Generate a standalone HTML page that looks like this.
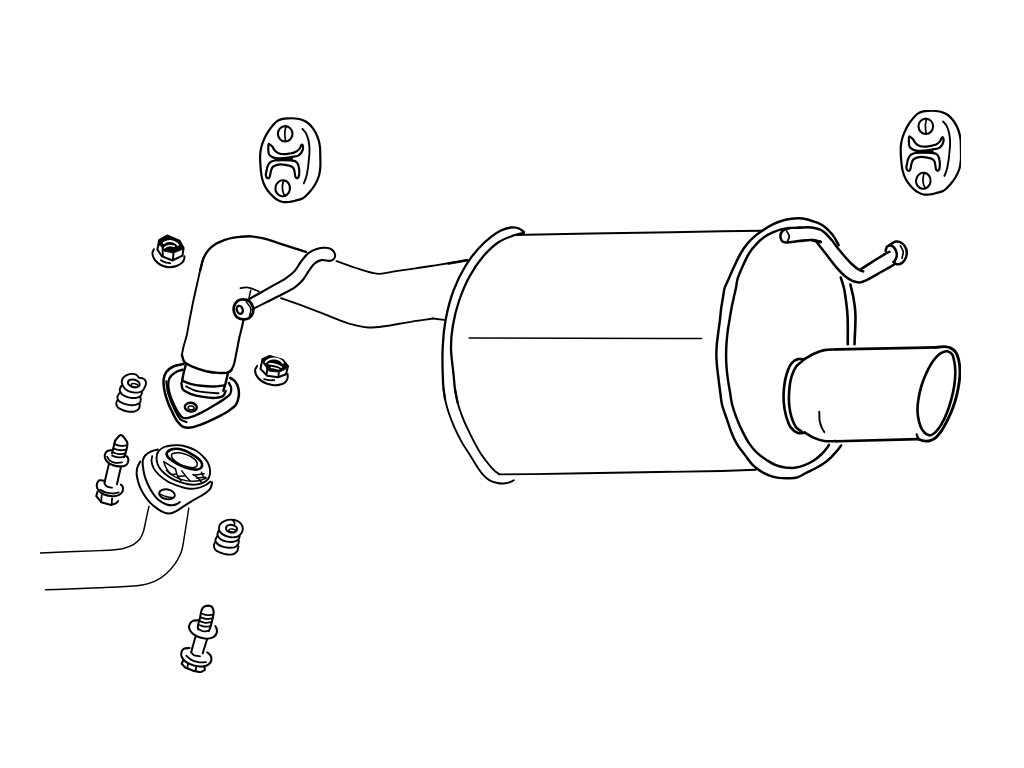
<!DOCTYPE html>
<html lang="en">
<head>
<meta charset="utf-8">
<title>Exhaust muffler diagram</title>
<style>
html,body{margin:0;padding:0;background:#fff;}
body{width:1024px;height:768px;overflow:hidden;}
svg{display:block;}
path,ellipse{stroke-linecap:round;stroke-linejoin:round;}
</style>
</head>
<body>
<svg width="1024" height="768" viewBox="0 0 1024 768" role="img" aria-label="Exhaust muffler exploded diagram">
<rect width="1024" height="768" fill="#fff"/>
<g filter="url(#soft)">
<path d="M524.0 232.0C522.3 230.8 521.0 229.3 519.0 228.5C516.7 227.6 513.8 227.3 511.0 227.5C507.8 227.8 504.2 229.0 501.0 230.5C497.6 232.1 494.4 234.1 491.0 236.8C486.9 239.9 482.5 244.1 478.5 248.5C474.1 253.4 469.9 258.7 466.0 265.0C461.4 272.4 456.9 281.5 453.5 290.5C450.0 299.9 447.3 310.9 445.5 320.5C443.9 329.1 443.2 336.7 442.8 345.5C442.2 355.1 442.5 368.1 442.8 376.0C442.9 381.1 443.1 384.5 443.5 388.5C443.9 392.3 444.6 395.8 445.1 399.4" fill="none" stroke="#000" stroke-width="2.3"/>
<path d="M443.5 388.5C444.1 392.1 444.3 395.6 445.1 399.4C446.0 403.9 447.5 408.9 449.0 413.5C450.6 418.2 452.4 422.9 454.5 427.6C456.6 432.3 459.0 437.1 461.5 441.6C463.9 446.0 466.7 450.0 469.3 454.1C471.9 458.3 474.6 462.9 477.1 466.6C479.3 469.8 481.1 472.8 483.4 475.2C485.3 477.3 487.3 479.1 489.6 480.4C492.0 481.7 494.8 482.5 497.4 483.0C500.0 483.5 502.9 483.6 505.2 483.3C507.3 483.1 509.2 482.5 510.7 481.9C511.9 481.5 512.8 480.8 513.8 480.2" fill="none" stroke="#000" stroke-width="1.9"/>
<path d="M524.0 232.8C520.5 233.7 517.3 234.2 513.5 235.5C508.9 237.1 503.3 239.1 498.5 242.2C493.2 245.7 488.1 250.7 483.5 256.0C478.5 261.8 473.8 268.7 469.8 276.0C465.5 283.7 461.9 292.5 459.0 301.0C456.2 309.2 454.1 317.9 452.8 326.0C451.5 333.5 450.9 340.2 451.0 348.0C451.1 356.8 453.0 368.5 453.7 376.0C454.2 381.0 454.3 384.2 454.9 388.5C455.6 393.1 456.7 397.9 457.6 402.6" fill="none" stroke="#000" stroke-width="2.3"/>
<path d="M454.9 388.5C455.8 393.2 456.4 397.9 457.6 402.6C458.8 407.3 460.5 412.1 462.3 416.6C463.9 421.0 465.8 425.0 467.8 429.1C469.7 433.3 471.8 437.5 474.0 441.6C476.2 445.8 478.6 450.3 481.0 454.1C483.3 457.6 485.7 460.6 488.1 463.5C490.2 466.1 492.3 468.7 494.3 470.5C495.9 472.0 497.4 472.9 499.0 474.1" fill="none" stroke="#000" stroke-width="1.9"/>
<path d="M514.0 235.0L591.0 233.5L672.0 232.2L722.0 231.2L762.5 230.8" fill="none" stroke="#000" stroke-width="1.9"/>
<path d="M499.0 474.4L533.4 474.1L584.0 473.2L722.0 471.0L755.8 469.8" fill="none" stroke="#000" stroke-width="1.9"/>
<path d="M469.2 338.0L672.0 338.5L701.5 338.5" fill="none" stroke="#000" stroke-width="1.6"/>
<path d="M838.7 245.2C837.9 243.7 837.4 242.4 836.4 240.8C835.2 238.7 833.5 236.0 831.7 233.8C829.8 231.5 827.5 229.2 825.4 227.5C823.6 226.0 821.9 224.9 820.0 223.9C818.1 222.9 816.1 222.3 814.0 221.6C811.7 220.8 809.0 219.8 806.5 219.2C804.0 218.7 801.5 218.4 799.0 218.3C796.5 218.2 794.1 218.4 791.5 218.8C788.5 219.2 785.2 219.8 782.1 220.7C778.9 221.6 775.8 222.9 772.8 224.4C769.6 226.0 766.4 228.0 763.4 230.0C760.5 231.9 757.6 233.8 754.9 236.1C752.2 238.4 749.7 240.8 747.4 243.6C745.0 246.5 743.0 249.5 740.9 253.0C738.6 256.9 736.4 261.7 734.3 266.1C732.2 270.5 730.2 275.5 728.4 279.5C727.0 282.7 725.5 285.1 724.6 288.1C723.7 291.1 723.6 294.2 723.0 297.5C722.4 301.1 721.6 305.0 721.1 308.8C720.6 312.6 720.4 316.6 719.9 320.5C719.4 324.4 718.8 328.1 718.3 332.2C717.7 336.7 717.0 341.8 716.7 346.2C716.4 350.2 716.3 353.8 716.4 357.5C716.5 361.3 716.9 364.9 717.3 368.8C717.7 372.8 718.3 377.0 718.8 381.0C719.2 384.8 719.7 388.2 720.2 392.0C720.8 396.0 721.0 400.3 722.0 404.5C723.1 409.1 725.0 413.8 726.7 418.6C728.4 423.6 730.1 429.5 732.1 434.2C733.8 438.2 735.5 441.7 737.6 445.1C739.7 448.5 742.2 451.3 744.6 454.5C747.2 457.8 749.7 461.8 752.4 464.7C754.9 467.2 757.4 469.1 760.2 470.9C763.1 472.8 766.4 474.4 769.6 475.6C772.7 476.7 775.7 477.5 779.0 477.9C782.5 478.4 786.6 478.4 789.9 478.2C792.8 478.1 795.2 477.9 797.8 477.2C800.4 476.3 802.7 474.7 805.6 473.2C808.9 471.6 812.9 469.8 816.5 467.8C820.2 465.7 824.2 463.3 827.4 460.8C830.4 458.4 832.9 455.6 835.2 452.9C837.4 450.5 839.2 447.9 841.2 445.4" fill="none" stroke="#000" stroke-width="2.45"/>
<path d="M800.9 227.7C797.8 227.8 794.6 227.7 791.5 227.9C788.4 228.1 785.2 228.4 782.1 229.1C778.9 229.9 775.7 231.1 772.8 232.4C769.8 233.7 767.0 235.2 764.3 237.1C761.4 239.2 758.4 241.9 755.9 244.6C753.4 247.2 751.3 249.8 749.3 253.0C746.9 256.8 744.7 261.7 742.8 266.1C740.8 270.5 738.5 275.6 737.4 279.5C736.6 282.4 736.6 284.5 736.1 287.2C735.5 290.4 734.5 294.0 733.8 297.5C732.9 301.2 732.1 305.0 731.4 308.8C730.7 312.5 730.1 316.2 729.5 320.0C728.9 323.7 728.2 327.4 727.7 331.2C727.2 335.2 726.8 339.3 726.5 343.4C726.2 347.5 726.1 351.6 726.1 355.6C726.1 359.4 726.2 363.1 726.5 366.9C726.8 370.6 727.2 374.2 727.7 378.1C728.3 382.5 729.2 387.5 730.0 392.0C730.7 396.3 731.1 400.3 732.1 404.5C733.3 409.1 735.0 413.9 736.8 418.6C738.6 423.3 740.9 428.3 743.1 432.6C745.1 436.6 746.9 440.2 749.3 443.6C751.6 446.9 754.2 450.2 757.1 452.9C760.0 455.6 763.3 457.9 766.5 460.0C769.6 461.9 772.7 463.9 775.9 465.1C778.9 466.3 782.1 467.0 785.2 467.5C788.4 467.9 791.5 468.1 794.6 467.8C797.8 467.4 800.9 466.6 804.0 465.4C807.2 464.3 810.5 462.6 813.4 460.8C816.2 458.9 818.9 456.7 821.2 454.5C823.3 452.5 825.3 450.1 826.7 448.2C827.6 447.0 828.2 446.0 829.0 444.8" fill="none" stroke="#000" stroke-width="2.45"/>
<path d="M840.8 277.5C841.9 281.4 843.3 285.0 844.2 289.2C845.2 294.1 845.9 299.9 846.5 304.9C847.1 309.3 847.4 312.4 847.6 317.4C848.0 324.6 847.7 335.3 847.8 344.2" fill="none" stroke="#000" stroke-width="2.6"/>
<path d="M850.4 284.6C851.5 289.2 852.7 293.8 853.6 298.6C854.4 303.7 855.2 308.2 855.4 314.2C855.8 322.6 854.8 334.2 854.5 344.2" fill="none" stroke="#000" stroke-width="2.6"/>
<path d="M804.0 359.4C807.1 357.6 810.1 355.5 813.4 354.0C816.8 352.4 820.5 350.8 824.3 350.1C828.3 349.3 832.6 349.6 836.8 349.4" fill="none" stroke="#000" stroke-width="2.64"/>
<path d="M836.8 349.4L934.7 347.4" fill="none" stroke="#000" stroke-width="2.64"/>
<path d="M804.8 432.6C807.6 434.2 810.3 436.2 813.4 437.6C816.7 439.0 820.5 440.4 824.3 441.0C828.3 441.6 832.6 441.1 836.8 441.2" fill="none" stroke="#000" stroke-width="2.64"/>
<path d="M836.8 441.2L918.3 439.1" fill="none" stroke="#000" stroke-width="2.64"/>
<path d="M804.0 359.4C801.9 359.3 799.7 358.6 797.8 359.1C795.6 359.7 793.2 361.3 791.5 363.3C789.4 365.8 788.0 369.8 786.8 373.5C785.4 377.7 784.5 382.9 784.0 387.6C783.5 392.2 783.4 397.0 783.7 401.6C784.0 406.3 784.8 411.3 786.0 415.7C787.2 419.8 788.5 424.4 790.7 427.4C792.6 429.9 795.3 432.1 797.8 432.9C800.0 433.6 802.4 432.7 804.8 432.6" fill="none" stroke="#000" stroke-width="2.64"/>
<path d="M802.4 361.0C800.4 362.8 797.9 364.1 796.2 366.5C794.2 369.2 792.7 372.9 791.5 376.6C790.2 380.9 789.5 386.0 789.2 390.7C788.8 395.4 788.7 400.2 789.2 404.8C789.6 409.1 790.3 413.4 791.5 417.2C792.7 420.9 794.2 424.9 796.2 427.4C797.7 429.4 799.8 430.2 801.7 431.6" fill="none" stroke="#000" stroke-width="2.64"/>
<path d="M819.3 411.8C819.4 414.6 819.2 417.6 819.6 420.4C820.1 423.1 821.0 426.1 822.0 428.2C822.7 429.8 823.5 430.8 824.3 432.1" fill="none" stroke="#000" stroke-width="1.95"/>
<path d="M934.7 347.6C937.8 347.2 941.3 346.5 944.1 346.6C946.4 346.7 948.4 347.0 950.3 347.9C952.3 348.8 954.4 350.4 955.8 352.4C957.4 354.7 958.2 357.9 958.9 361.0C959.7 364.4 960.0 368.3 960.0 371.9C960.0 375.6 959.6 379.1 959.1 382.9C958.5 386.9 957.7 391.2 956.7 395.4C955.7 399.6 954.4 403.8 952.8 407.9C951.2 412.1 949.3 416.4 947.3 420.4C945.4 424.2 943.4 428.2 941.1 431.3C939.1 434.0 937.1 436.7 934.8 438.3C932.9 439.7 930.8 440.6 928.8 441.0C926.7 441.4 924.4 441.1 922.5 440.7C920.7 440.3 919.2 439.3 917.5 438.7" fill="none" stroke="#000" stroke-width="2.88"/>
<path d="M947.2 351.3C945.3 351.1 943.0 352.0 940.9 353.2C938.3 354.8 935.4 358.0 933.1 361.0C930.7 364.2 928.8 368.0 926.9 371.9C924.8 376.3 922.8 381.3 921.4 386.0C920.0 390.6 918.9 395.6 918.3 400.1C917.7 403.9 917.4 407.4 917.5 411.0C917.6 414.7 918.2 418.6 919.1 421.9C919.8 424.8 920.8 427.6 922.2 429.8C923.5 431.7 925.2 433.6 926.9 434.4C928.1 435.1 929.5 435.5 930.8 435.2C932.3 434.9 934.0 433.5 935.5 432.1C937.4 430.3 939.2 427.8 940.9 425.1C942.9 421.9 944.8 418.1 946.4 414.1C948.2 409.8 949.8 404.8 951.1 400.1C952.4 395.4 953.5 390.7 954.2 386.0C954.9 381.3 955.4 376.3 955.3 371.9C955.3 368.1 954.9 364.2 954.2 361.0C953.7 358.4 953.2 355.6 951.9 354.0C950.7 352.6 948.9 351.5 947.2 351.3Z" fill="none" stroke="#000" stroke-width="2.64"/>
<path d="M916.7 434.4L918.4 439.1" fill="none" stroke="#000" stroke-width="2.3"/>
<path d="M789.5 228.0C787.2 229.0 784.0 229.4 782.5 231.0C781.2 232.3 780.5 234.4 780.4 236.1C780.4 237.8 781.0 240.1 782.0 241.1C782.9 242.0 784.0 242.2 785.6 242.4C788.6 242.7 794.5 241.5 798.9 241.1C803.1 240.7 807.5 239.8 811.4 240.0C814.7 240.2 817.6 241.2 820.8 241.8" fill="none" stroke="#000" stroke-width="2.53"/>
<path d="M786.7 231.1C787.5 232.8 789.0 234.4 789.2 236.1C789.3 237.8 788.1 239.7 787.6 241.4" fill="none" stroke="#000" stroke-width="1.76"/>
<path d="M812.2 240.2L820.8 242.1" fill="none" stroke="#000" stroke-width="2.86"/>
<path d="M798.9 227.5C803.0 227.5 807.7 227.1 811.4 227.5C814.3 227.8 816.8 228.3 819.2 229.2C821.5 230.2 823.5 231.6 825.4 233.3C827.6 235.2 829.5 237.5 831.7 240.0C834.2 243.0 836.5 246.6 839.5 250.2C843.1 254.6 848.2 260.7 852.0 264.2C854.8 266.8 857.7 269.0 859.8 270.2C861.1 270.9 862.1 271.0 863.2 271.4" fill="none" stroke="#000" stroke-width="2.53"/>
<path d="M816.4 241.8C819.4 245.6 822.3 249.3 825.4 253.3C828.9 257.8 832.7 263.3 836.4 267.4C839.5 270.9 842.8 274.4 845.8 276.8C847.9 278.5 849.7 279.7 852.0 280.7C854.4 281.6 857.4 282.5 859.8 282.4C862.0 282.3 863.7 281.3 866.1 280.3C869.3 279.0 873.4 276.4 877.0 274.4C880.7 272.4 884.8 270.0 887.9 268.2C890.4 266.7 892.3 265.6 894.5 264.2" fill="none" stroke="#000" stroke-width="2.53"/>
<path d="M861.4 268.9C865.0 266.6 868.5 264.3 872.3 261.9C876.3 259.4 881.6 255.9 884.8 254.1C886.7 253.0 887.9 252.5 889.5 251.8" fill="none" stroke="#000" stroke-width="2.53"/>
<path d="M889.5 245.0C891.6 243.9 893.6 241.9 895.8 241.6C897.8 241.3 900.3 242.0 902.0 243.2C903.9 244.4 905.7 247.1 906.4 249.4C907.1 251.8 906.8 254.9 906.1 257.2C905.4 259.3 903.9 261.5 902.3 262.7C900.8 263.8 898.4 264.5 896.8 264.2C895.5 264.0 894.6 262.7 893.4 261.9" fill="none" stroke="#000" stroke-width="2.53"/>
<path d="M885.6 251.0C886.1 249.5 886.1 247.5 887.2 246.6C888.2 245.7 890.5 245.3 891.8 245.8C893.4 246.4 894.9 248.5 895.8 250.2C896.6 252.0 897.0 254.5 896.7 256.4C896.4 258.4 895.0 260.1 894.2 261.9" fill="none" stroke="#000" stroke-width="2.53"/>
<path d="M900.4 245.8C901.4 247.8 903.0 249.7 903.2 251.8C903.5 253.8 902.4 256.1 902.0 258.3" fill="none" stroke="#000" stroke-width="1.65"/>
<path d="M181.9 354.8C182.4 352.1 182.8 349.7 183.5 346.9C184.3 343.6 185.6 340.0 186.6 336.0C187.7 331.1 188.5 325.3 189.6 319.6C190.8 313.6 192.1 307.0 193.3 300.9C194.6 295.1 195.9 289.3 197.1 284.0C198.2 279.2 199.1 274.7 200.2 270.2C201.3 266.1 202.4 262.1 203.5 258.1" fill="none" stroke="#000" stroke-width="1.93"/>
<path d="M200.2 270.2C201.3 266.2 202.0 261.6 203.5 258.1C204.8 255.0 206.4 252.3 208.5 249.9C210.6 247.5 213.3 245.4 216.0 243.7C218.7 242.0 221.9 241.0 224.8 239.9C227.3 239.0 229.7 238.3 232.2 237.8C234.8 237.2 237.2 237.0 240.1 236.8C243.4 236.5 247.2 236.1 251.0 236.3C255.0 236.6 259.2 237.4 263.5 238.4C268.1 239.5 272.8 241.2 277.6 242.8C282.6 244.4 288.2 246.2 293.2 247.8C297.7 249.2 301.7 250.5 306.0 251.8" fill="none" stroke="#000" stroke-width="2.35"/>
<path d="M336.5 261.2C343.0 263.5 349.9 266.0 356.0 268.0C361.3 269.7 366.6 271.5 371.0 272.5C374.3 273.2 376.4 273.8 379.8 273.8C384.3 273.7 389.6 272.2 396.0 271.2C405.5 269.8 420.3 267.7 431.0 266.0C440.0 264.6 449.3 263.1 456.0 262.0C460.5 261.2 463.5 260.7 467.2 260.0" fill="none" stroke="#000" stroke-width="1.84"/>
<path d="M448.5 263.5L467.2 260.2" fill="none" stroke="#000" stroke-width="2.39"/>
<path d="M281.0 298.2C287.7 300.6 294.5 302.9 301.0 305.2C307.4 307.6 314.3 310.2 319.8 312.3C324.0 313.9 326.7 315.1 331.0 316.8C336.7 319.0 344.5 322.4 351.0 324.2C357.0 325.9 362.6 327.2 368.5 327.5C374.3 327.8 379.7 326.8 386.0 326.0C393.6 325.0 402.9 323.0 411.0 321.8C418.6 320.5 425.7 319.6 433.0 318.5" fill="none" stroke="#000" stroke-width="1.84"/>
<path d="M433.0 318.5L444.0 319.8" fill="none" stroke="#000" stroke-width="1.84"/>
<path d="M243.5 320.1C242.6 324.0 241.6 328.9 240.8 331.8C240.4 333.6 240.2 334.2 239.7 336.0C238.9 339.5 237.7 346.6 236.6 351.6C235.6 356.4 234.8 362.1 233.5 365.7C232.6 368.2 231.4 369.6 230.3 371.6" fill="none" stroke="#000" stroke-width="2.12"/>
<path d="M181.9 354.8C182.7 357.1 182.7 359.8 184.2 361.8C186.2 364.2 190.2 365.7 193.6 367.2C197.4 368.9 201.9 370.2 206.1 371.2C210.3 372.1 214.8 372.7 218.6 372.9C222.0 373.0 225.6 373.2 228.0 372.4C229.7 371.8 230.6 370.5 231.9 369.6" fill="none" stroke="#000" stroke-width="2.42"/>
<path d="M185.8 364.9C185.0 367.8 184.1 370.7 183.5 373.5C182.9 376.2 182.5 378.7 182.1 381.3" fill="none" stroke="#000" stroke-width="2.42"/>
<path d="M228.0 372.9C227.2 376.2 226.5 379.8 225.7 382.9C224.9 385.7 224.1 388.1 223.3 390.7" fill="none" stroke="#000" stroke-width="2.42"/>
<path d="M182.1 380.7C184.9 381.7 187.5 383.0 190.5 383.8C193.9 384.7 197.7 385.4 201.4 385.8C205.4 386.3 210.0 386.6 213.9 386.5C217.5 386.4 220.7 385.7 224.1 385.4" fill="none" stroke="#000" stroke-width="2.42"/>
<path d="M181.4 382.9C181.9 385.0 181.5 387.4 182.7 389.1C184.1 391.2 187.5 392.6 190.5 393.8C194.1 395.3 198.8 396.3 203.0 396.9C207.1 397.6 211.8 398.2 215.5 397.9C218.4 397.6 221.6 397.1 223.3 395.7C224.7 394.6 224.9 392.6 225.7 391.0" fill="none" stroke="#000" stroke-width="2.42"/>
<path d="M186.1 386.3C188.6 387.6 190.7 389.1 193.6 390.1C197.2 391.3 201.9 391.9 206.1 392.4C210.3 392.9 214.5 392.9 218.6 393.2" fill="none" stroke="#000" stroke-width="1.89"/>
<path d="M183.5 364.1C180.1 364.9 176.3 365.1 173.3 366.5C170.6 367.8 167.9 369.7 166.3 371.9C164.7 374.1 164.0 377.0 163.6 379.8C163.2 382.7 163.7 385.9 164.2 389.1C164.8 392.7 165.8 396.5 167.1 400.1C168.3 403.8 170.0 407.5 171.8 411.0C173.4 414.5 175.2 418.4 177.2 421.2C178.9 423.4 180.5 425.6 182.7 426.6C184.9 427.7 187.7 427.8 190.5 427.6C193.9 427.3 197.6 425.8 201.4 424.4C205.9 422.8 211.0 420.4 215.5 418.2C219.8 416.0 224.4 413.6 228.0 411.2C231.0 409.1 234.0 407.4 235.8 404.9C237.4 402.6 238.2 399.7 238.6 396.9C239.1 394.0 238.9 390.3 238.2 387.6C237.5 385.2 236.4 383.0 235.0 381.3C233.8 379.8 231.9 379.0 230.3 377.9" fill="none" stroke="#000" stroke-width="2.52"/>
<path d="M182.7 369.6C180.1 370.6 177.1 371.2 174.9 372.7C172.7 374.1 170.5 376.0 169.4 378.2C168.3 380.4 168.2 383.3 168.3 386.0C168.4 389.0 169.2 392.3 170.2 395.4C171.2 398.5 172.6 401.7 174.1 404.8C175.5 407.7 177.0 411.0 178.8 413.3C180.2 415.3 181.6 417.4 183.5 418.0C185.4 418.7 188.0 417.9 190.5 417.2C193.8 416.4 197.7 414.4 201.4 412.6C205.5 410.5 209.9 407.9 213.9 405.5C217.7 403.2 221.9 400.7 224.9 398.5C227.1 396.9 229.3 395.7 230.3 393.8C231.3 392.0 231.4 389.5 231.1 387.6C230.8 385.8 229.6 384.4 228.8 382.9" fill="none" stroke="#000" stroke-width="2.31"/>
<path d="M166.3 381.3C167.0 385.5 167.1 389.5 168.3 393.8C169.7 398.8 172.3 404.9 174.6 409.4C176.5 413.3 178.4 417.5 180.8 419.6C182.6 421.1 184.7 421.4 186.6 422.2" fill="none" stroke="#000" stroke-width="2.1"/>
<ellipse cx="190.8" cy="407.2" rx="6.0" ry="4.4" transform="rotate(5 190.8 407.2)" fill="none" stroke="#000" stroke-width="2.42"/>
<ellipse cx="191.1" cy="407.9" rx="3.0" ry="1.9" transform="rotate(5 191.1 407.9)" fill="none" stroke="#000" stroke-width="1.47"/>
<path d="M246.3 300.6C251.0 298.0 255.8 295.3 260.4 292.8C264.7 290.4 268.7 288.1 272.9 285.7C277.0 283.4 281.6 281.3 285.4 278.7C288.8 276.3 292.1 273.8 294.8 270.9C297.3 268.1 298.7 264.5 301.0 261.5C303.4 258.5 306.0 255.0 308.8 252.9C311.3 251.1 313.8 249.9 316.6 249.0C319.5 248.1 323.2 247.5 326.0 247.8C328.3 248.0 330.7 248.6 332.2 249.8C333.6 250.9 334.8 252.9 335.1 254.5C335.3 256.0 334.7 258.1 333.8 259.2C333.0 260.2 331.5 260.6 329.9 260.9C327.6 261.2 323.9 259.6 321.3 260.1C319.0 260.5 317.0 261.5 315.1 263.1C312.7 264.9 310.8 268.1 308.8 270.9C306.7 273.8 305.0 277.5 302.6 280.2C300.2 282.9 297.8 285.1 294.8 287.3C291.2 289.8 286.7 292.0 282.2 294.3C277.4 296.9 271.7 299.6 266.6 302.1C261.8 304.5 257.2 306.8 252.6 309.2" fill="none" stroke="#000" stroke-width="2.12"/>
<path d="M243.2 299.3C241.3 299.3 239.2 299.8 237.7 300.9C236.2 302.0 234.7 304.1 234.1 306.0C233.5 307.9 233.6 310.4 234.1 312.3C234.7 314.2 235.8 316.3 237.2 317.4C238.8 318.6 241.2 319.2 243.2 319.3C245.2 319.4 247.5 319.1 249.1 318.1C250.8 317.0 252.2 314.9 252.9 313.1C253.5 311.2 253.4 308.8 252.9 306.8C252.3 304.8 251.0 302.6 249.4 301.3C247.8 300.1 245.2 299.3 243.2 299.3Z" fill="none" stroke="#000" stroke-width="2.76"/>
<ellipse cx="239.8" cy="309.8" rx="2.9" ry="4.1" transform="rotate(-20 239.8 309.8)" fill="none" stroke="#000" stroke-width="2.3"/>
<path d="M246.3 302.1C247.8 304.2 250.1 306.0 250.7 308.4C251.3 310.8 249.9 313.8 249.4 316.5" fill="none" stroke="#000" stroke-width="1.47"/>
<path d="M240.4 288.1C242.4 287.8 244.3 287.2 246.3 287.3C248.4 287.4 250.5 288.2 252.6 288.8C254.7 289.6 256.7 290.6 258.8 291.5" fill="none" stroke="#000" stroke-width="1.75"/>
<path d="M249.1 297.4L250.7 290.4" fill="none" stroke="#000" stroke-width="1.56"/>
<path d="M149.0 506.2C148.1 510.4 147.2 514.5 146.2 518.8C145.2 523.2 144.4 528.9 143.1 532.5C142.2 535.1 141.5 536.8 140.0 538.8C138.4 540.8 136.3 542.8 133.8 544.4C130.7 546.3 126.2 547.8 122.5 548.8C119.1 549.6 116.0 549.7 112.5 550.0C108.6 550.3 104.9 550.4 100.0 550.6C93.1 550.9 84.0 551.1 75.0 551.5C64.3 551.9 51.7 552.5 40.0 553.0" fill="none" stroke="#000" stroke-width="1.45"/>
<path d="M188.8 508.1C187.5 516.2 186.2 525.1 185.0 532.5C183.9 538.8 183.0 546.0 181.9 550.0C181.3 552.2 180.9 553.1 180.0 555.0C178.8 557.6 177.1 560.8 175.0 563.8C172.6 567.1 169.6 570.8 166.2 573.8C162.9 576.7 159.0 579.4 155.0 581.2C151.1 583.1 147.1 584.1 142.5 585.0C137.2 586.0 131.4 586.1 125.0 586.5C117.4 587.0 108.3 587.4 100.0 587.8C91.7 588.1 83.7 588.4 75.0 588.8C65.6 589.1 55.3 589.4 45.5 589.8" fill="none" stroke="#000" stroke-width="1.45"/>
<path d="M260.2 154.2C260.1 155.3 260.1 155.8 260.1 157.0C260.1 159.4 260.3 164.1 260.6 167.6C260.9 171.1 261.2 174.8 262.0 178.1C262.7 181.1 263.7 184.0 265.1 186.6C266.4 189.1 268.2 191.5 270.1 193.6C272.0 195.7 274.2 197.8 276.4 199.2C278.4 200.5 280.6 201.5 282.7 202.0C284.8 202.4 286.9 202.2 289.0 202.0C291.1 201.8 293.2 201.2 295.4 200.6C297.7 200.0 300.2 199.7 302.4 198.5C304.9 197.1 307.3 194.5 309.4 192.2C311.5 189.9 313.5 187.2 315.1 184.5C316.7 181.8 318.0 178.9 318.9 176.0C319.7 173.2 320.1 170.6 320.3 167.6C320.6 164.3 320.4 160.5 320.3 157.0C320.2 153.7 320.3 150.2 320.0 147.2C319.7 144.6 319.3 142.4 318.6 140.1C317.9 137.7 316.9 135.3 315.8 133.1C314.8 131.1 313.7 129.2 312.3 127.5C310.9 125.7 309.1 123.8 307.3 122.5C305.6 121.3 303.7 120.4 301.7 119.7C299.7 119.0 297.5 118.7 295.4 118.5C293.3 118.3 291.1 118.2 289.0 118.3C286.9 118.4 284.7 118.4 282.7 118.9C280.7 119.4 278.8 120.0 277.1 121.1C275.3 122.3 273.8 124.2 272.2 126.1C270.5 128.2 268.7 130.7 267.2 133.1C265.9 135.4 264.7 137.7 263.7 140.1C262.7 142.4 261.9 144.8 261.3 147.2C260.7 149.5 260.4 152.4 260.2 154.2Z" fill="none" stroke="#000" stroke-width="2.2"/>
<ellipse cx="285.2" cy="133.8" rx="7.3" ry="7.7" transform="rotate(0 285.2 133.8)" fill="none" stroke="#000" stroke-width="2.1"/>
<path d="M285.9 126.4C285.5 128.6 284.9 130.8 284.8 133.1C284.7 135.6 285.3 138.2 285.5 140.8" fill="none" stroke="#000" stroke-width="1.7"/>
<ellipse cx="282.7" cy="188.3" rx="7.3" ry="8.0" transform="rotate(8 282.7 188.3)" fill="none" stroke="#000" stroke-width="2.1"/>
<path d="M283.4 180.9C283.1 182.8 282.4 184.7 282.4 186.6C282.4 188.5 282.6 190.6 283.1 192.2C283.5 193.5 284.2 194.5 284.8 195.7" fill="none" stroke="#000" stroke-width="1.7"/>
<path d="M302.4 128.9C303.6 130.3 304.9 131.4 305.9 133.1C307.0 135.1 307.8 137.7 308.4 140.1C309.0 142.4 309.2 144.8 309.4 147.2C309.6 149.5 309.5 152.4 309.4 154.2C309.3 155.3 309.2 155.8 309.1 157.0C308.8 159.4 308.5 164.2 308.0 167.6C307.5 170.8 307.1 173.9 306.3 176.7C305.6 179.1 304.6 181.2 303.8 183.4" fill="none" stroke="#000" stroke-width="1.9"/>
<path d="M268.7 144.0C268.2 144.3 268.3 147.0 268.3 148.6C268.3 150.4 268.2 152.8 269.0 154.2C269.7 155.5 270.9 156.3 272.2 157.0C273.6 157.8 275.3 158.2 277.1 158.4C279.2 158.6 281.8 158.3 284.1 158.1C286.5 157.9 288.8 157.4 291.2 157.0C293.5 156.6 296.4 156.6 298.2 155.6C299.7 154.8 300.9 153.5 301.7 152.1C302.5 150.7 303.3 148.5 303.1 147.2C303.0 146.2 302.2 144.7 301.7 144.7C301.1 144.7 300.6 147.4 299.6 148.6C298.5 149.9 297.0 151.3 295.4 152.1C293.8 152.9 291.7 153.1 289.8 153.5C287.9 153.8 285.9 154.2 284.1 154.2C282.4 154.2 280.7 154.1 279.2 153.5C277.7 152.9 276.2 151.9 275.0 150.7C273.8 149.5 273.2 147.6 272.2 146.5C271.4 145.6 270.4 144.8 269.7 144.4C269.3 144.2 268.9 143.8 268.7 144.0Z" fill="none" stroke="#000" stroke-width="2.2"/>
<path d="M275.0 160.5C272.8 160.9 271.3 161.3 270.1 162.3C268.9 163.2 268.2 164.8 267.6 166.2C267.0 167.7 266.8 169.5 266.5 171.1C266.2 172.5 265.6 174.1 265.8 175.3C266.0 176.4 266.6 177.7 267.2 178.1C267.7 178.4 268.5 178.4 269.0 178.1C269.6 177.7 269.8 176.4 270.1 175.3C270.5 173.9 270.6 171.9 271.1 170.4C271.6 169.1 272.0 167.8 272.9 166.9C273.8 166.0 275.1 165.5 276.4 165.1C277.7 164.7 279.1 164.4 280.6 164.4C282.2 164.4 283.9 164.6 285.5 164.9C287.2 165.2 289.1 165.4 290.5 166.0C291.7 166.6 292.9 167.3 293.6 168.3C294.3 169.4 294.4 171.1 294.7 172.5C295.0 173.9 294.9 175.7 295.4 176.7C295.7 177.4 296.3 178.0 296.8 178.1C297.3 178.2 298.1 177.7 298.5 177.1C299.1 176.3 299.2 174.6 299.2 173.2C299.4 171.5 299.2 169.3 298.9 167.6C298.6 166.1 298.2 164.5 297.5 163.4C296.9 162.5 296.3 161.7 295.4 161.2C294.3 160.7 293.1 160.7 291.2 160.5C287.6 160.2 278.8 159.8 275.0 160.5Z" fill="none" stroke="#000" stroke-width="2.2"/>
<path d="M276.0 159.3C278.7 159.3 281.3 159.5 284.0 159.4C286.7 159.3 289.3 159.0 292.0 158.8" fill="none" stroke="#000" stroke-width="2.2"/>
<path d="M900.8 146.7C900.7 147.8 900.7 148.3 900.7 149.5C900.7 151.9 900.8 156.6 901.2 160.1C901.5 163.6 901.8 167.3 902.6 170.6C903.3 173.6 904.3 176.5 905.7 179.1C907.0 181.6 908.8 184.0 910.7 186.1C912.5 188.2 914.7 190.3 917.0 191.7C919.0 193.0 921.1 194.0 923.3 194.5C925.3 194.9 927.5 194.7 929.6 194.5C931.7 194.3 933.8 193.7 936.0 193.1C938.3 192.5 940.8 192.2 943.0 191.0C945.5 189.6 947.9 187.0 950.0 184.7C952.1 182.4 954.1 179.7 955.7 177.0C957.2 174.3 958.6 171.4 959.5 168.5C960.3 165.7 960.6 163.1 960.9 160.1C961.1 156.8 960.9 153.0 960.9 149.5C960.8 146.2 960.9 142.7 960.6 139.7C960.3 137.1 959.8 134.9 959.2 132.6C958.5 130.2 957.5 127.8 956.4 125.6C955.3 123.6 954.2 121.7 952.9 120.0C951.4 118.2 949.7 116.3 947.9 115.0C946.1 113.8 944.2 112.9 942.3 112.2C940.3 111.5 938.1 111.2 936.0 111.0C933.8 110.8 931.7 110.7 929.6 110.8C927.4 110.9 925.3 110.9 923.3 111.4C921.3 111.9 919.4 112.5 917.7 113.6C915.8 114.8 914.3 116.7 912.8 118.6C911.0 120.7 909.2 123.2 907.8 125.6C906.4 127.9 905.3 130.2 904.3 132.6C903.3 134.9 902.4 137.3 901.9 139.7C901.3 142.0 900.9 144.9 900.8 146.7Z" fill="none" stroke="#000" stroke-width="2.2"/>
<ellipse cx="925.8" cy="126.3" rx="7.3" ry="7.7" transform="rotate(0 925.8 126.3)" fill="none" stroke="#000" stroke-width="2.1"/>
<path d="M926.5 118.9C926.1 121.1 925.4 123.3 925.4 125.6C925.3 128.1 925.8 130.7 926.1 133.3" fill="none" stroke="#000" stroke-width="1.7"/>
<ellipse cx="923.3" cy="180.8" rx="7.3" ry="8.0" transform="rotate(8 923.3 180.8)" fill="none" stroke="#000" stroke-width="2.1"/>
<path d="M924.0 173.4C923.6 175.3 923.0 177.2 923.0 179.1C922.9 181.0 923.2 183.1 923.7 184.7C924.1 186.0 924.8 187.0 925.4 188.2" fill="none" stroke="#000" stroke-width="1.7"/>
<path d="M943.0 121.4C944.1 122.8 945.5 123.9 946.5 125.6C947.6 127.6 948.4 130.2 949.0 132.6C949.5 134.9 949.8 137.3 950.0 139.7C950.1 142.0 950.1 144.9 950.0 146.7C949.9 147.8 949.8 148.3 949.7 149.5C949.4 151.9 949.1 156.7 948.6 160.1C948.1 163.3 947.6 166.4 946.9 169.2C946.2 171.6 945.2 173.7 944.4 175.9" fill="none" stroke="#000" stroke-width="1.9"/>
<path d="M909.3 136.5C908.8 136.8 908.8 139.5 908.9 141.1C908.9 142.9 908.8 145.3 909.6 146.7C910.2 148.0 911.5 148.8 912.8 149.5C914.2 150.3 915.9 150.7 917.7 150.9C919.8 151.1 922.3 150.8 924.7 150.6C927.0 150.4 929.4 149.9 931.8 149.5C934.1 149.1 936.9 149.1 938.8 148.1C940.3 147.3 941.4 146.0 942.3 144.6C943.1 143.2 943.8 141.0 943.7 139.7C943.5 138.7 942.8 137.2 942.3 137.2C941.6 137.2 941.1 139.9 940.2 141.1C939.1 142.4 937.6 143.8 936.0 144.6C934.3 145.4 932.2 145.6 930.4 146.0C928.5 146.3 926.5 146.7 924.7 146.7C923.0 146.7 921.3 146.6 919.8 146.0C918.2 145.4 916.7 144.4 915.6 143.2C914.4 142.0 913.8 140.1 912.8 139.0C912.0 138.1 910.9 137.3 910.3 136.9C909.9 136.7 909.5 136.3 909.3 136.5Z" fill="none" stroke="#000" stroke-width="2.2"/>
<path d="M915.6 153.0C913.4 153.4 911.9 153.8 910.7 154.8C909.5 155.7 908.8 157.3 908.2 158.7C907.5 160.2 907.4 162.0 907.1 163.6C906.8 165.0 906.2 166.6 906.4 167.8C906.5 168.9 907.2 170.2 907.8 170.6C908.3 170.9 909.1 170.9 909.6 170.6C910.2 170.2 910.3 168.9 910.7 167.8C911.1 166.4 911.1 164.4 911.7 162.9C912.1 161.6 912.6 160.3 913.5 159.4C914.3 158.5 915.7 158.0 917.0 157.6C918.3 157.2 919.7 156.9 921.2 156.9C922.7 156.9 924.4 157.1 926.1 157.4C927.7 157.7 929.6 157.9 931.1 158.5C932.3 159.1 933.5 159.8 934.2 160.8C934.9 161.9 935.0 163.6 935.3 165.0C935.6 166.4 935.5 168.2 936.0 169.2C936.3 169.9 936.8 170.5 937.4 170.6C937.9 170.7 938.7 170.2 939.1 169.6C939.6 168.8 939.7 167.1 939.8 165.7C939.9 164.0 939.8 161.8 939.5 160.1C939.2 158.6 938.7 157.0 938.1 155.9C937.5 155.0 936.9 154.2 936.0 153.8C934.9 153.2 933.6 153.2 931.8 153.0C928.1 152.7 919.4 152.3 915.6 153.0Z" fill="none" stroke="#000" stroke-width="2.2"/>
<path d="M916.6 151.8C919.2 151.8 921.9 152.0 924.6 151.9C927.2 151.8 929.9 151.5 932.6 151.3" fill="none" stroke="#000" stroke-width="2.2"/>
<path d="M153.9 249.2C153.4 250.4 152.5 251.4 152.4 252.7C152.2 254.3 152.9 256.5 153.8 258.2C154.7 259.9 156.1 261.6 157.7 262.9C159.3 264.2 161.2 265.3 163.2 266.0C165.1 266.7 167.3 267.2 169.4 267.2C171.7 267.2 174.3 266.8 176.4 266.0C178.4 265.3 180.6 264.2 181.9 262.9C183.0 261.8 183.9 260.2 184.2 259.0C184.5 258.0 184.4 257.1 184.4 256.2" fill="none" stroke="#000" stroke-width="2.0"/>
<path d="M160.8 260.1C162.1 260.8 163.3 261.6 164.7 262.1C166.4 262.7 168.4 262.9 170.2 263.3" fill="none" stroke="#000" stroke-width="1.8"/>
<path d="M167.1 235.9L159.6 240.4L158.6 244.8L162.4 246.9L164.3 251.3L173.3 253.0L182.5 249.4L183.2 247.9L179.2 241.0Z" fill="#000" stroke="#000" stroke-width="0.8"/>
<path d="M167.1 235.5L159.1 240.2L157.4 249.6L161.8 256.3L172.5 260.5L182.5 255.7L183.6 248.0L179.4 240.6Z" fill="none" stroke="#000" stroke-width="2.0"/>
<path d="M163.8 243.0C164.9 242.4 165.8 241.7 167.1 241.4C168.5 241.0 170.2 240.9 171.8 241.2C173.2 241.4 174.9 242.2 176.0 243.0C176.9 243.5 177.3 244.3 178.0 244.9" fill="none" stroke="#fff" stroke-width="2.0"/>
<path d="M164.6 247.9C165.3 247.4 165.8 246.7 166.7 246.3C167.7 245.8 169.0 245.4 170.2 245.4C171.5 245.4 172.8 246.0 174.1 246.3" fill="none" stroke="#fff" stroke-width="1.5"/>
<path d="M162.5 246.9L162.9 256.2" fill="none" stroke="#000" stroke-width="1.9"/>
<path d="M173.5 253.1L172.9 259.8" fill="none" stroke="#000" stroke-width="2.0"/>
<path d="M257.2 365.8C256.5 367.2 255.3 368.6 255.1 370.1C255.0 371.7 255.5 373.5 256.3 375.2C257.3 377.1 259.2 379.2 261.0 380.6C262.8 382.0 265.1 383.0 267.2 383.8C269.5 384.5 272.0 385.2 274.3 385.3C276.4 385.4 278.6 385.1 280.5 384.5C282.3 384.0 284.0 383.3 285.2 382.2C286.3 381.2 287.2 379.7 287.6 378.3C287.9 376.9 287.6 375.4 287.6 374.0" fill="none" stroke="#000" stroke-width="2.0"/>
<path d="M264.1 379.1C265.7 379.5 267.2 380.0 268.8 380.2C270.6 380.4 272.5 380.2 274.3 380.2" fill="none" stroke="#000" stroke-width="1.8"/>
<path d="M263.2 359.5L269.8 356.6L282.4 360.2L287.2 366.2L285.7 369.1L279.4 372.2L268.8 371.1L263.0 362.8Z" fill="#000" stroke="#000" stroke-width="0.8"/>
<path d="M262.4 359.1L269.6 356.0L282.7 359.7L288.0 366.2L286.0 374.2L278.2 377.3L267.2 375.7L260.5 368.9Z" fill="none" stroke="#000" stroke-width="2.0"/>
<path d="M265.7 362.0C266.9 361.1 267.8 360.0 269.2 359.4C270.8 358.7 273.2 358.4 275.1 358.6C276.8 358.7 278.8 359.4 280.1 360.2C281.3 360.8 282.0 361.8 282.9 362.7" fill="none" stroke="#fff" stroke-width="2.0"/>
<path d="M269.2 363.8C270.6 363.9 272.1 363.8 273.5 364.1C275.0 364.4 276.8 365.1 278.2 365.6C279.4 366.1 280.3 366.7 281.3 367.2" fill="none" stroke="#fff" stroke-width="1.6"/>
<path d="M271.2 367.5C272.5 367.7 273.8 367.8 275.1 368.1C276.3 368.4 277.4 368.9 278.6 369.2" fill="none" stroke="#fff" stroke-width="1.3"/>
<path d="M267.4 367.0L266.6 374.8" fill="none" stroke="#000" stroke-width="1.9"/>
<path d="M278.8 373.2L278.3 377.1" fill="none" stroke="#000" stroke-width="1.9"/>
<path d="M121.7 381.9C121.7 380.3 122.4 378.7 123.2 377.6C124.2 376.4 125.7 375.5 127.2 374.8C128.6 374.2 130.3 373.9 131.8 373.9C133.4 373.9 135.3 374.1 136.5 374.8C137.6 375.5 137.9 377.0 138.9 377.6C139.9 378.2 141.7 377.8 142.8 378.4C143.9 378.9 145.0 379.7 145.5 380.7C146.0 381.7 146.1 383.0 145.9 384.2C145.7 385.5 145.0 386.9 144.3 388.1C143.7 389.3 143.0 390.5 142.0 391.2C141.1 391.9 140.1 392.2 138.9 392.4C137.3 392.7 135.2 392.7 133.4 392.4C131.6 392.2 129.5 391.7 127.9 390.9C126.4 390.1 125.0 389.1 124.0 387.7C122.9 386.2 121.7 383.7 121.7 381.9Z" fill="none" stroke="#000" stroke-width="1.93"/>
<ellipse cx="133.8" cy="383.4" rx="6.0" ry="3.8" transform="rotate(15 133.8 383.4)" fill="none" stroke="#000" stroke-width="2.02"/>
<ellipse cx="134.6" cy="385.4" rx="3.6" ry="1.7" transform="rotate(12 134.6 385.4)" fill="none" stroke="#000" stroke-width="1.38"/>
<path d="M121.3 385.8C120.8 387.1 119.7 388.4 119.7 389.7C119.7 391.0 120.4 392.5 121.3 393.6C122.3 394.8 124.0 395.6 125.6 396.3C127.3 397.1 129.2 397.6 131.1 397.9C132.9 398.1 134.9 398.2 136.5 397.9C138.0 397.6 139.5 397.2 140.4 396.3C141.3 395.5 141.5 394.0 142.0 392.8" fill="none" stroke="#000" stroke-width="1.93"/>
<path d="M119.3 393.2C118.7 394.4 117.5 395.5 117.4 396.7C117.3 398.0 117.7 399.6 118.6 400.6C119.5 401.9 121.6 402.6 123.2 403.4C125.0 404.1 126.8 404.7 128.7 404.9C130.7 405.2 133.1 405.3 135.0 404.9C136.7 404.6 138.7 404.0 139.7 403.0C140.5 402.0 140.8 400.2 140.8 399.1C140.8 398.2 140.3 397.5 140.0 396.7" fill="none" stroke="#000" stroke-width="1.93"/>
<path d="M117.4 400.2C117.0 401.3 116.2 402.3 116.2 403.4C116.2 404.6 116.9 406.2 117.8 407.3C118.8 408.5 120.8 409.3 122.5 410.0C124.2 410.7 126.0 411.3 127.9 411.6C129.9 411.8 132.4 412.0 134.2 411.6C135.8 411.1 137.5 410.3 138.5 409.2C139.3 408.2 139.8 406.4 139.8 405.3C139.8 404.6 139.4 404.0 139.3 403.4" fill="none" stroke="#000" stroke-width="1.93"/>
<path d="M219.0 529.1C218.9 527.8 219.2 525.7 220.1 524.4C221.1 522.9 223.0 521.7 224.8 520.9C226.7 520.0 229.0 519.6 231.1 519.6C233.1 519.6 235.6 520.1 237.3 520.9C238.9 521.6 240.3 522.7 241.2 524.0C242.1 525.2 242.7 526.9 242.8 528.3C242.9 529.6 242.6 531.0 242.0 532.2C241.4 533.5 240.2 534.9 238.9 535.7C237.6 536.6 235.8 537.1 234.2 537.3C232.5 537.5 230.5 537.3 228.7 536.9C226.9 536.5 224.8 535.6 223.2 534.6C221.9 533.7 220.4 532.5 219.7 531.4C219.2 530.7 219.0 530.0 219.0 529.1Z" fill="none" stroke="#000" stroke-width="1.93"/>
<ellipse cx="231.5" cy="528.7" rx="5.6" ry="3.8" transform="rotate(10 231.5 528.7)" fill="none" stroke="#000" stroke-width="2.02"/>
<ellipse cx="232.2" cy="530.5" rx="3.4" ry="1.5" transform="rotate(8 232.2 530.5)" fill="none" stroke="#000" stroke-width="1.38"/>
<path d="M232.2 519.7C233.0 520.8 234.3 521.8 234.6 522.8C234.8 523.7 234.3 524.7 234.2 525.6" fill="none" stroke="#000" stroke-width="1.66"/>
<path d="M218.6 530.7C218.2 532.0 217.3 533.3 217.4 534.6C217.5 535.8 218.4 537.1 219.3 538.1C220.5 539.2 222.3 540.2 224.0 540.8C225.9 541.5 228.3 541.9 230.3 542.0C232.2 542.0 234.2 541.8 235.8 541.2C237.0 540.7 238.2 539.8 238.9 538.9C239.4 538.1 239.4 537.0 239.7 536.1" fill="none" stroke="#000" stroke-width="1.93"/>
<path d="M217.0 536.5C216.5 537.7 215.4 538.9 215.4 540.0C215.4 541.2 216.1 542.5 217.0 543.5C218.2 544.8 220.5 546.0 222.5 546.7C224.4 547.4 226.6 547.8 228.7 547.8C230.8 547.9 233.3 547.8 235.0 547.1C236.3 546.5 237.4 545.4 238.1 544.3C238.7 543.3 238.6 542.0 238.9 540.8" fill="none" stroke="#000" stroke-width="1.93"/>
<path d="M215.0 542.0C214.7 543.2 213.9 544.3 213.9 545.5C213.9 546.9 214.4 548.6 215.4 549.8C216.6 551.2 219.0 552.1 220.9 552.9C222.9 553.7 225.1 554.3 227.2 554.5C229.2 554.7 231.7 554.8 233.4 554.1C235.0 553.5 236.5 552.3 237.3 551.0C238.1 549.7 238.1 547.8 238.5 546.3" fill="none" stroke="#000" stroke-width="1.93"/>
<path d="M112.1 453.5C112.7 451.0 113.2 448.2 113.8 445.9C114.2 444.0 114.7 442.4 115.2 440.6" fill="none" stroke="#000" stroke-width="2.1"/>
<path d="M115.2 440.6C116.6 439.0 118.2 436.7 119.3 435.8C119.9 435.4 120.3 435.1 120.9 435.0C121.4 435.0 122.0 435.3 122.6 435.8C123.9 436.8 125.5 439.8 127.0 441.7" fill="none" stroke="#000" stroke-width="2.1"/>
<path d="M127.0 441.7C127.1 442.6 127.4 443.2 127.4 444.2C127.4 445.8 126.9 448.2 126.3 450.2C125.8 452.4 124.9 454.6 124.2 456.8" fill="none" stroke="#000" stroke-width="2.1"/>
<path d="M114.3 444.2C116.5 444.8 118.7 445.7 120.9 445.9C122.9 446.0 124.9 445.5 126.9 445.3" fill="none" stroke="#000" stroke-width="1.8"/>
<path d="M113.4 448.6C115.6 449.2 117.7 450.1 119.8 450.2C121.9 450.4 124.0 449.9 126.1 449.7" fill="none" stroke="#000" stroke-width="1.8"/>
<path d="M112.7 452.4C114.7 453.0 116.6 453.9 118.7 454.1C120.8 454.3 123.1 453.7 125.2 453.5" fill="none" stroke="#000" stroke-width="1.8"/>
<path d="M112.1 455.7C114.3 456.3 116.6 457.2 118.7 457.4C120.6 457.5 122.3 457.0 124.2 456.8" fill="none" stroke="#000" stroke-width="1.8"/>
<path d="M112.1 450.2C110.7 450.4 108.9 450.1 107.8 450.8C106.6 451.4 105.5 452.9 105.0 454.1C104.6 455.2 104.7 456.6 105.0 457.9C105.4 459.4 106.5 461.1 107.8 462.3C109.1 463.6 111.2 464.7 113.2 465.3C115.2 466.1 117.7 466.4 119.8 466.4C121.7 466.4 123.8 466.4 125.2 465.6C126.5 464.9 127.5 463.5 128.0 462.3C128.4 461.0 128.5 459.0 128.0 457.9C127.6 456.9 126.5 456.4 125.8 455.7" fill="none" stroke="#000" stroke-width="2.1"/>
<path d="M107.2 456.8C108.1 458.1 108.7 459.7 109.9 460.6C111.3 461.7 113.5 462.5 115.4 462.8C117.5 463.1 119.8 462.5 122.0 462.3" fill="none" stroke="#000" stroke-width="1.8"/>
<path d="M108.8 464.5C108.1 467.4 107.4 470.2 106.7 473.2C105.9 476.4 105.2 479.8 104.5 483.1" fill="none" stroke="#000" stroke-width="2.0"/>
<path d="M120.9 467.2C120.1 470.3 119.4 473.5 118.7 476.5C118.1 479.2 117.6 481.6 117.0 484.2" fill="none" stroke="#000" stroke-width="2.0"/>
<path d="M104.5 480.9C102.8 480.7 100.8 479.8 99.5 480.3C98.4 480.8 97.4 482.3 97.0 483.6C96.6 485.0 96.7 487.0 97.4 488.5C98.0 490.2 99.6 491.7 101.2 492.9C103.0 494.2 105.5 495.1 107.8 495.6C109.9 496.2 112.2 496.4 114.3 496.2C116.2 496.0 118.3 495.5 119.8 494.5C121.1 493.6 122.4 492.1 122.8 490.7C123.3 489.4 123.0 487.4 122.5 486.3C122.2 485.6 121.4 485.2 120.9 484.7" fill="none" stroke="#000" stroke-width="2.1"/>
<path d="M104.5 483.6C105.2 484.5 105.6 485.7 106.7 486.3C108.0 487.2 110.3 487.2 112.1 487.7" fill="none" stroke="#000" stroke-width="1.8"/>
<path d="M100.1 489.6C101.9 490.5 103.5 491.7 105.6 492.4C107.8 493.1 110.9 493.5 113.2 493.5C115.2 493.4 116.9 492.7 118.7 492.4" fill="none" stroke="#000" stroke-width="1.8"/>
<path d="M97.4 491.8L96.3 496.2L101.2 502.2L111.0 504.9L116.0 503.3L118.1 501.1" fill="none" stroke="#000" stroke-width="2.1"/>
<path d="M101.7 495.1L101.2 501.7" fill="none" stroke="#000" stroke-width="1.8"/>
<path d="M112.1 498.4L111.6 504.7" fill="none" stroke="#000" stroke-width="1.8"/>
<path d="M198.3 629.4C198.1 628.4 197.7 627.8 197.8 626.6C197.8 624.5 199.3 620.7 200.0 617.9C200.6 615.2 200.8 612.2 201.6 610.2C202.2 608.8 202.8 607.7 203.8 606.9C204.9 606.1 206.8 605.6 208.2 605.6C209.5 605.7 211.1 606.1 212.0 606.9C213.0 607.9 213.4 609.9 213.6 611.3C213.8 612.5 213.6 613.3 213.4 614.6C213.1 616.4 212.6 618.9 212.0 621.2C211.4 623.6 210.5 627.1 209.8 628.8C209.4 629.8 209.1 630.3 208.7 631.0" fill="none" stroke="#000" stroke-width="2.1"/>
<path d="M201.4 613.5C203.3 614.0 205.1 615.0 207.1 615.1C209.0 615.3 211.1 614.8 213.1 614.6" fill="none" stroke="#000" stroke-width="1.8"/>
<path d="M200.5 617.3C202.5 617.9 204.5 618.8 206.5 619.0C208.5 619.1 210.5 618.6 212.5 618.4" fill="none" stroke="#000" stroke-width="1.8"/>
<path d="M199.6 621.2C201.7 621.7 203.9 622.6 206.0 622.8C207.8 622.9 209.6 622.4 211.4 622.2" fill="none" stroke="#000" stroke-width="1.8"/>
<path d="M198.9 625.0C200.9 625.5 202.9 626.5 204.9 626.6C206.8 626.8 208.7 626.3 210.6 626.1" fill="none" stroke="#000" stroke-width="1.8"/>
<path d="M198.3 628.8C199.8 629.6 201.1 630.9 202.7 631.2C204.5 631.6 206.7 630.9 208.7 630.8" fill="none" stroke="#000" stroke-width="1.8"/>
<path d="M198.9 620.3C196.9 620.5 194.4 620.1 192.8 620.9C191.4 621.6 190.1 623.1 189.6 624.4C189.0 625.7 188.9 627.4 189.3 628.8C189.8 630.5 191.3 632.4 192.8 633.7C194.6 635.3 197.1 636.5 199.4 637.3C201.8 638.2 204.6 638.7 207.1 638.7C209.3 638.6 212.0 638.1 213.6 637.0C215.0 636.1 216.2 634.6 216.7 633.2C217.2 631.9 217.0 630.1 216.7 628.8C216.4 627.8 215.7 627.0 215.3 626.1" fill="none" stroke="#000" stroke-width="2.1"/>
<path d="M195.6 636.5C194.8 639.0 194.1 641.5 193.4 644.1C192.6 646.8 191.9 649.6 191.2 652.3" fill="none" stroke="#000" stroke-width="2.0"/>
<path d="M207.1 639.2C206.3 641.6 205.6 643.9 204.9 646.3C204.1 648.7 203.4 651.1 202.7 653.4" fill="none" stroke="#000" stroke-width="2.0"/>
<path d="M189.6 648.0C187.7 648.2 185.5 647.9 184.1 648.7C182.8 649.5 181.7 650.9 181.4 652.3C181.0 653.8 181.2 655.7 181.9 657.2C182.7 659.0 184.4 660.8 186.3 662.2C188.4 663.7 191.2 664.7 193.9 665.5C196.7 666.2 200.1 666.8 202.7 666.5C204.9 666.3 207.2 665.6 208.7 664.4C210.0 663.3 211.2 661.5 211.4 660.0C211.7 658.4 211.1 656.4 210.3 655.1C209.6 653.9 208.2 653.2 207.1 652.3" fill="none" stroke="#000" stroke-width="2.1"/>
<path d="M191.2 652.3C192.1 653.2 192.7 654.4 193.9 655.1C195.5 655.9 197.9 655.9 200.0 656.4" fill="none" stroke="#000" stroke-width="1.8"/>
<path d="M186.3 655.6C187.7 656.9 188.9 658.4 190.7 659.4C192.8 660.7 195.7 661.7 198.3 662.2C200.8 662.6 203.4 662.2 206.0 662.2" fill="none" stroke="#000" stroke-width="1.8"/>
<path d="M183.0 660.5L181.7 663.8L185.2 667.6L193.9 670.9L200.5 672.3L204.9 669.8L204.3 666.0" fill="none" stroke="#000" stroke-width="2.1"/>
<path d="M187.9 663.8L187.4 668.2" fill="none" stroke="#000" stroke-width="1.8"/>
<path d="M196.1 667.1L195.6 671.2" fill="none" stroke="#000" stroke-width="1.8"/>
<path d="M140.2 461.5C139.3 463.4 138.1 465.0 137.5 467.0C136.9 469.0 136.6 471.3 136.6 473.6C136.7 476.0 137.4 478.7 138.0 481.2C138.7 483.8 139.6 486.4 140.8 488.9C142.0 491.5 143.5 494.1 145.2 496.5C146.8 498.9 148.6 501.1 150.6 503.1C152.6 505.1 154.9 507.0 157.2 508.6C159.3 510.1 161.6 511.6 163.8 512.4C165.6 513.1 167.3 513.6 169.2 513.5C171.3 513.4 173.6 512.4 175.8 511.3C178.3 510.1 180.8 508.1 183.4 506.4C186.3 504.6 189.3 502.6 192.2 500.9C195.1 499.2 198.3 497.6 200.9 496.0C203.3 494.5 205.8 493.1 207.5 491.6C208.9 490.4 210.0 489.3 210.8 487.8C211.6 486.2 211.7 484.1 212.1 482.3" fill="none" stroke="#000" stroke-width="2.0"/>
<path d="M157.7 449.5C155.4 450.2 152.8 450.6 150.6 451.7C148.6 452.7 146.5 454.0 145.2 455.5C144.0 456.9 143.1 458.6 142.8 460.4C142.3 462.4 142.7 464.7 143.0 467.0C143.3 469.7 143.8 472.9 144.6 475.8C145.4 478.7 146.6 481.6 147.9 484.5C149.3 487.5 151.0 490.6 152.8 493.2C154.5 495.7 156.1 498.0 158.3 499.8C160.5 501.7 163.4 503.3 165.9 504.2C168.1 505.0 170.5 505.4 172.5 505.3C174.1 505.2 175.6 504.6 176.9 504.0C178.0 503.4 178.9 502.7 179.9 502.0" fill="none" stroke="#000" stroke-width="2.0"/>
<path d="M158.5 451.2C159.8 449.7 162.1 448.0 164.2 447.0C166.3 446.1 168.7 445.8 171.2 445.5C173.9 445.2 176.9 445.0 179.6 445.3C182.3 445.5 184.8 446.2 187.4 447.0C190.2 447.9 193.2 449.0 195.8 450.5C198.4 452.1 200.8 454.1 202.8 456.2C204.8 458.1 206.6 460.3 207.8 462.5C208.8 464.5 209.5 466.8 209.9 468.8C210.2 470.7 210.2 472.7 209.9 474.5C209.5 476.2 208.9 478.0 207.8 479.4C206.6 480.8 204.7 482.0 202.8 482.9C200.8 483.8 198.2 484.4 195.8 484.6C193.3 484.9 190.6 484.7 188.1 484.3C185.5 483.9 182.9 483.1 180.3 482.2C177.6 481.2 174.5 480.1 171.9 478.7C169.4 477.3 167.0 475.6 164.9 473.8C162.8 471.9 160.6 469.7 159.2 467.4C158.0 465.4 157.2 463.2 156.8 461.1C156.4 459.2 156.4 457.2 156.8 455.5C157.1 453.9 157.5 452.5 158.5 451.2Z" fill="none" stroke="#000" stroke-width="1.9"/>
<path d="M152.2 456.2C152.0 457.8 151.4 459.3 151.5 461.1C151.7 463.2 152.5 465.9 153.6 468.1C154.9 470.6 157.0 473.0 159.2 475.2C161.7 477.5 164.7 479.7 167.7 481.5C170.7 483.3 174.2 484.5 177.5 485.7C180.8 486.9 184.1 488.1 187.4 488.5C190.6 488.9 194.1 488.8 197.2 488.2C200.2 487.6 203.3 486.3 205.7 485.0C207.6 484.0 208.9 482.7 210.6 481.5" fill="none" stroke="#000" stroke-width="1.8"/>
<path d="M167.0 452.7C167.6 451.7 169.0 450.5 170.5 449.8C172.4 449.0 175.2 448.7 177.5 448.8C179.9 448.9 182.3 449.7 184.6 450.5C187.0 451.4 189.4 452.8 191.6 454.1C193.8 455.3 196.2 456.7 197.9 458.3C199.5 459.7 201.3 461.5 201.8 463.2C202.2 464.6 202.1 466.4 201.4 467.4C200.7 468.5 198.9 469.2 197.2 469.5C195.2 469.9 192.6 469.3 190.2 468.8C187.5 468.2 184.5 467.2 181.8 466.0C179.1 464.8 176.3 463.3 174.0 461.8C171.9 460.5 169.6 459.0 168.4 457.6C167.5 456.5 166.8 455.3 166.6 454.4C166.5 453.8 166.6 453.2 167.0 452.7Z" fill="none" stroke="#000" stroke-width="2.6"/>
<path d="M171.9 454.1C172.7 453.1 175.5 452.9 177.5 452.8C179.7 452.7 182.3 453.2 184.6 453.9C187.0 454.6 189.6 455.7 191.6 457.0C193.4 458.2 195.5 459.5 196.4 461.1C197.1 462.4 197.5 464.2 197.1 465.3C196.6 466.4 195.1 467.3 193.7 467.6C192.0 468.1 189.6 467.4 187.4 466.9C184.9 466.3 181.9 465.3 179.6 464.1C177.6 463.1 175.5 461.8 174.2 460.4C173.0 459.3 172.0 457.9 171.7 456.7C171.5 455.8 171.3 454.7 171.9 454.1Z" fill="none" stroke="#000" stroke-width="1.6"/>
<path d="M163.8 461.8C164.4 463.4 164.8 465.1 165.6 466.7C166.5 468.6 167.6 470.7 169.1 472.3C170.6 474.0 172.7 475.4 174.7 476.6C176.9 477.8 179.2 479.0 181.8 479.7C184.4 480.5 187.4 481.0 190.2 481.1C193.0 481.3 195.9 481.3 198.6 480.8C201.3 480.3 203.8 478.9 206.4 478.0" fill="none" stroke="#000" stroke-width="1.4"/>
<path d="M164.2 461.9L175.4 468.8" fill="none" stroke="#000" stroke-width="1.5"/>
<path d="M175.4 468.8C176.1 471.2 176.5 473.8 177.5 475.9C178.4 477.7 179.9 479.1 181.0 480.8" fill="none" stroke="#000" stroke-width="1.5"/>
<path d="M166.3 470.2C167.9 471.6 169.4 473.9 171.2 474.5C172.7 474.9 174.5 474.1 176.1 473.9" fill="none" stroke="#000" stroke-width="1.5"/>
<path d="M181.8 470.9C183.6 473.3 185.8 476.2 187.4 478.0C188.4 479.2 189.2 479.9 190.2 480.9" fill="none" stroke="#000" stroke-width="1.5"/>
<path d="M177.5 476.2L184.6 475.9" fill="none" stroke="#000" stroke-width="1.5"/>
<path d="M193.0 474.5C194.4 475.4 195.9 476.1 197.2 477.3C198.7 478.6 200.0 480.5 201.4 482.2" fill="none" stroke="#000" stroke-width="1.5"/>
<path d="M193.7 475.2L204.2 473.8" fill="none" stroke="#000" stroke-width="1.5"/>
<path d="M196.5 478.1L205.7 477.3" fill="none" stroke="#000" stroke-width="1.5"/>
<path d="M201.4 472.3L203.5 477.3" fill="none" stroke="#000" stroke-width="1.5"/>
<ellipse cx="167.0" cy="494.3" rx="8.0" ry="4.8" transform="rotate(10 167.0 494.3)" fill="none" stroke="#000" stroke-width="2.0"/>
<path d="M160.5 494.3C162.3 495.1 164.0 496.0 165.9 496.5C168.0 497.1 170.3 497.3 172.5 497.6" fill="none" stroke="#000" stroke-width="1.5"/>
</g>
<defs><filter id="soft" x="0" y="0" width="100%" height="100%"><feGaussianBlur stdDeviation="0.35"/></filter></defs>
</svg>
</body>
</html>
